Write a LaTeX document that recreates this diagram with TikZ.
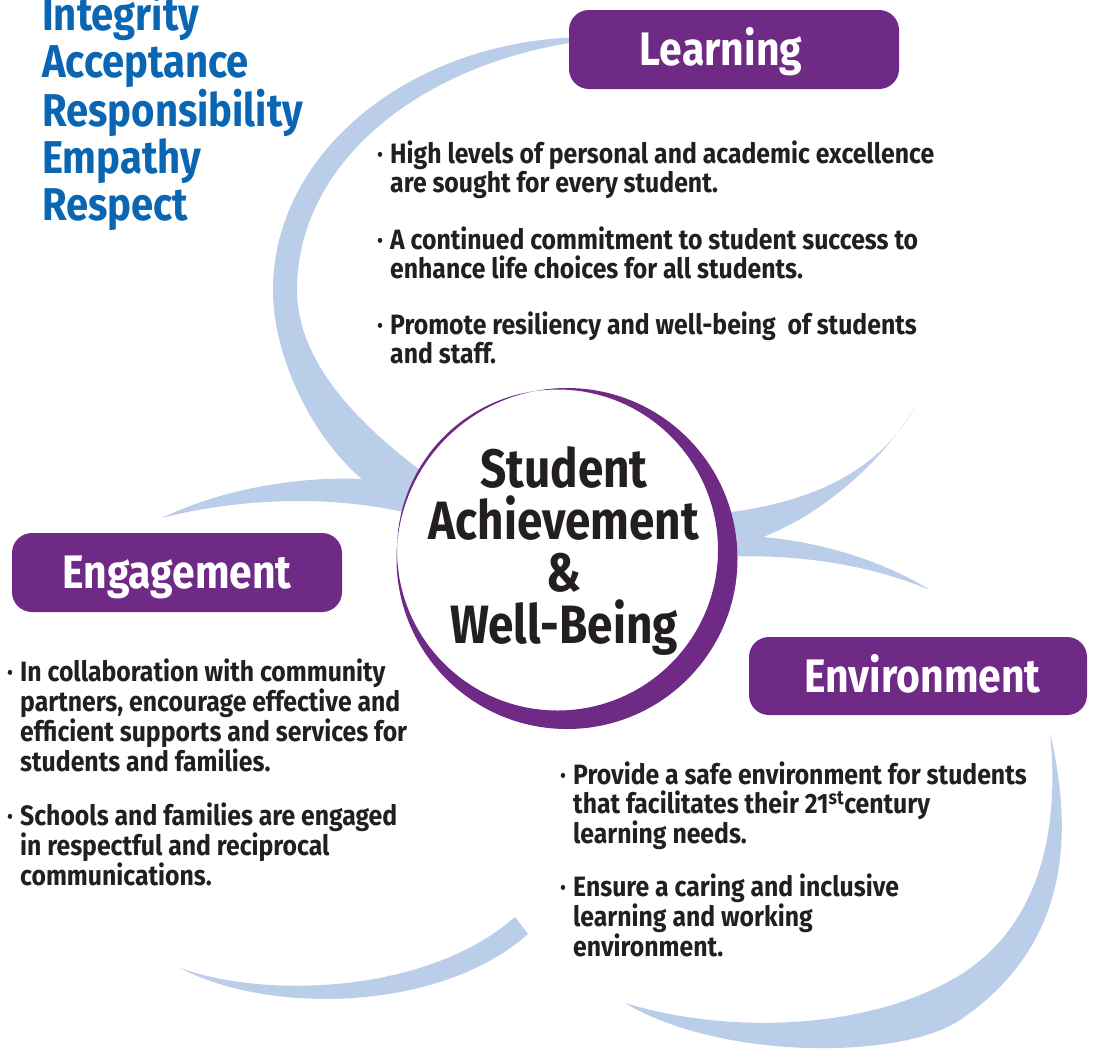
\documentclass[tikz,border=0pt]{standalone}
\usepackage{fontspec}
\setmainfont{Fira Sans}[FakeStretch=0.87]
\newfontfamily\bodyfont{Fira Sans}[FakeStretch=0.885]
\newfontfamily\corefont{Fira Sans}[FakeStretch=0.85]
\usepackage{xcolor}
\usetikzlibrary{positioning}
\definecolor{ringpurple}{RGB}{111,42,134}
\definecolor{swooshblue}{RGB}{186,205,233}
\definecolor{valueblue}{RGB}{10,102,179}
\definecolor{inkdark}{RGB}{35,31,32}
\newcommand{\bul}{\makebox[13pt][l]{·}}
\newcommand{\bulgap}{\hspace*{13pt}}

\begin{document}
\begin{tikzpicture}[x=1pt, y=-1pt,
  swoosh/.style={fill=swooshblue},
  titlebox/.style={fill=ringpurple, rounded corners=20pt, minimum width=330pt, minimum height=79pt,
    text=white, font=\fontsize{47}{47}\selectfont\bfseries, text height=32pt, text depth=0pt, inner sep=0pt},
  coretext/.style={text=inkdark, font=\corefont\fontsize{54}{52}\selectfont\bfseries, align=center, inner sep=0pt},
  valuetext/.style={text=valueblue, font=\fontsize{46}{47}\selectfont\bfseries, align=left, anchor=base west, inner sep=0pt},
  bodytext/.style={text=inkdark, font=\bodyfont\fontsize{28}{28.5}\selectfont\bfseries, align=left, anchor=base west, inner sep=0pt}]

% Canvas
\useasboundingbox (0,0) rectangle (1094,1053);
\clip (0,0) rectangle (1094,1053);

% Swoosh from Learning, meeting the one from Engagement
\fill[swoosh] (590,37) .. controls (415,37) and (273,150) .. (273,290)
  .. controls (273,360) and (315,440) .. (362,479)
  .. controls (290,476) and (215,492) .. (162,518)
  .. controls (230,500) and (330,492) .. (420,516)
  -- (445,515) -- (445,475) -- (420,470)
  .. controls (340,410) and (297,350) .. (297,290)
  .. controls (297,160) and (425,60) .. (590,40)
  -- cycle;

% Swooshes on the right of the circle
\fill[swoosh] (715,514) .. controls (800,505) and (875,478) .. (915,407)
  .. controls (880,465) and (820,515) .. (763,537)
  .. controls (830,543) and (890,565) .. (930,590)
  .. controls (870,565) and (800,553) .. (715,557)
  -- cycle;

% Swoosh under Engagement
\fill[swoosh] (180,968) .. controls (270,1015) and (440,1012) .. (528,934)
  -- (515,917)
  .. controls (430,992) and (270,1000) .. (180,968)
  -- cycle;

% Swoosh under Environment
\fill[swoosh] (1050,733) .. controls (1070,820) and (1078,940) .. (960,1020)
  .. controls (900,1060) and (720,1060) .. (625,1003)
  .. controls (730,1035) and (870,1030) .. (960,975)
  .. controls (1040,925) and (1060,830) .. (1050,733)
  -- cycle;

% Centre circle
\fill[white] (567,558.5) circle (170.5pt);
\fill[ringpurple, even odd rule] (567,558.5) circle (170.5pt) (557.5,550) circle (160.5pt);
\node[coretext] (core) at (564,550.5) {Student\\Achievement\\\&\\Well-Being};

% Titles
\node[titlebox] (learning) at (734,49.5) {\hspace*{-26pt}Learning};
\node[titlebox] (engagement) at (177,572.5) {Engagement};
\node[titlebox, minimum width=338pt, minimum height=78pt] (environment) at (918,676) {\hspace*{9pt}Environment};

% Values
\node[valuetext] (values) at (42,220) {Integrity\\Acceptance\\Responsibility\\Empathy\\Respect};

% Learning goals
\node[bodytext] (learn1) at (377,192) {\bul High levels of personal and academic excellence\\\bulgap are sought for every student.};
\node[bodytext] (learn2) at (377,278) {\bul A continued commitment to student success to\\\bulgap enhance life choices for all students.};
\node[bodytext] (learn3) at (377,363) {\bul Promote resiliency and well-being\ \ of students\\\bulgap and staff.};

% Engagement goals
\node[bodytext] (engage1) at (7,771) {\bul In collaboration with community\\\bulgap partners, encourage effective and\\\bulgap efficient supports and services for\\\bulgap students and families.};
\node[bodytext] (engage2) at (7,885) {\bul Schools and families are engaged\\\bulgap in respectful and reciprocal\\\bulgap communications.};

% Environment goals
\node[bodytext] (env1) at (560,843) {\bul Provide a safe environment for students\\\bulgap that facilitates their 21\textsuperscript{st}century\\\bulgap learning needs.};
\node[bodytext] (env2) at (560,956) {\bul Ensure a caring and inclusive\\\bulgap learning and working\\\bulgap environment.};
\end{tikzpicture}
\end{document}
